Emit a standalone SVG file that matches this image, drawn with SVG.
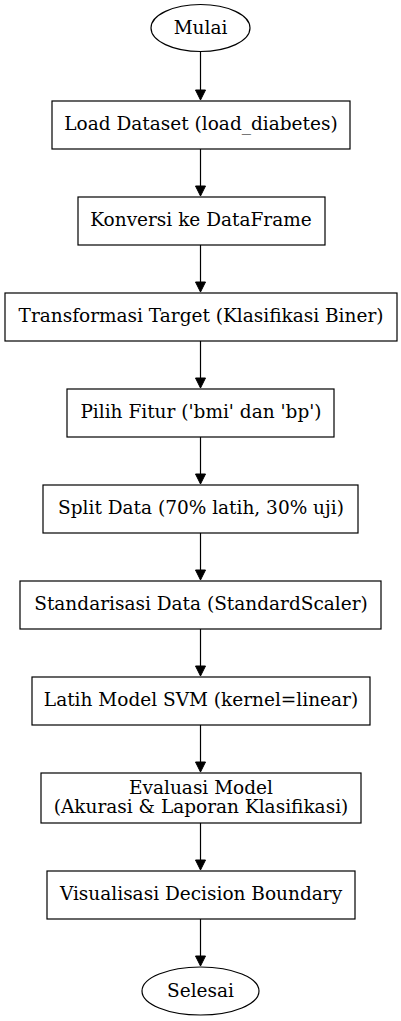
<svg xmlns="http://www.w3.org/2000/svg" width="401" height="1021" viewBox="0 0 401 1021">
<style>
.n{fill:#fff;stroke:#000;stroke-width:1.2}
.t{font-family:"DejaVu Serif",serif;font-size:18.5px;text-anchor:middle;fill:#000}
.e{stroke:#000;stroke-width:1.2;fill:none}
.h{fill:#000;stroke:#000}
</style>
<rect width="401" height="1021" fill="#fff"/>
<g id="connectors">
<path class="e" d="M200.5 52V90"/><path class="h" d="M195.5 90L200.5 100L205.5 90Z"/>
<path class="e" d="M200.5 149V186"/><path class="h" d="M195.5 186L200.5 196L205.5 186Z"/>
<path class="e" d="M200.5 245V282"/><path class="h" d="M195.5 282L200.5 292L205.5 282Z"/>
<path class="e" d="M200.5 341V378"/><path class="h" d="M195.5 378L200.5 388L205.5 378Z"/>
<path class="e" d="M200.5 437V474"/><path class="h" d="M195.5 474L200.5 484L205.5 474Z"/>
<path class="e" d="M200.5 533V570"/><path class="h" d="M195.5 570L200.5 580L205.5 570Z"/>
<path class="e" d="M200.5 629V666"/><path class="h" d="M195.5 666L200.5 676L205.5 666Z"/>
<path class="e" d="M200.5 725V762"/><path class="h" d="M195.5 762L200.5 772L205.5 762Z"/>
<path class="e" d="M200.5 823V860"/><path class="h" d="M195.5 860L200.5 870L205.5 860Z"/>
<path class="e" d="M200.5 919V956"/><path class="h" d="M195.5 956L200.5 966L205.5 956Z"/>
</g>
<g id="mulai"><ellipse class="n" cx="200.5" cy="28" rx="49.5" ry="23.5"/><text class="t" x="200.5" y="34">Mulai</text></g>
<g id="load"><rect class="n" x="52" y="101" width="298" height="48"/><text class="t" x="201" y="130">Load Dataset (load_diabetes)</text></g>
<g id="konversi"><rect class="n" x="78" y="197" width="247" height="48"/><text class="t" x="201" y="226">Konversi ke DataFrame</text></g>
<g id="transformasi"><rect class="n" x="5" y="293" width="392" height="48"/><text class="t" x="201" y="322">Transformasi Target (Klasifikasi Biner)</text></g>
<g id="pilih"><rect class="n" x="67" y="389" width="267" height="48"/><text class="t" x="201" y="418">Pilih Fitur ('bmi' dan 'bp')</text></g>
<g id="split"><rect class="n" x="43" y="485" width="315" height="48"/><text class="t" x="201" y="514">Split Data (70% latih, 30% uji)</text></g>
<g id="standarisasi"><rect class="n" x="20" y="581" width="361" height="48"/><text class="t" x="201" y="610">Standarisasi Data (StandardScaler)</text></g>
<g id="latih"><rect class="n" x="32" y="677" width="338" height="48"/><text class="t" x="201" y="706">Latih Model SVM (kernel=linear)</text></g>
<g id="evaluasi"><rect class="n" x="41" y="773" width="320" height="50"/><text class="t" x="201" y="794">Evaluasi Model</text><text class="t" x="201" y="813">(Akurasi &amp; Laporan Klasifikasi)</text></g>
<g id="visualisasi"><rect class="n" x="47" y="871" width="308" height="48"/><text class="t" x="201" y="900">Visualisasi Decision Boundary</text></g>
<g id="selesai"><ellipse class="n" cx="200.5" cy="991" rx="58.5" ry="24"/><text class="t" x="200.5" y="997">Selesai</text></g>
</svg>
